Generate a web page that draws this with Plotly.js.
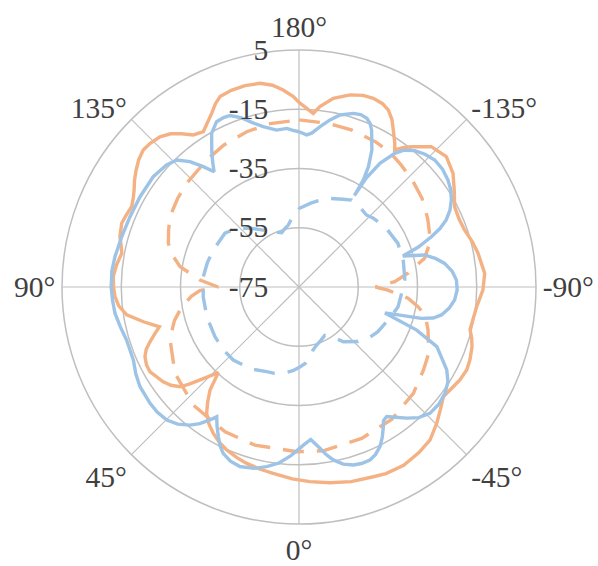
<!DOCTYPE html>
<html>
<head>
<meta charset="utf-8">
<script src="https://cdn.plot.ly/plotly-3.0.1.min.js"></script>
<style>html,body{margin:0;padding:0;background:#fff;}#chart{width:598px;height:566px;}</style>
</head>
<body>
<div id="chart"></div>
<script>
// Orange solid
var orangeSolidTheta = [-180,-175.3,-173.4,-169.7,-165.1,-161.5,-158.5,-155.5,-153.2,-151,-149,-146.3,-145.1,-143.3,-141.3,-136.7,-131.5,-126.4,-121.5,-117.3,-113,-109,-104.5,-100.7,-94.2,-89.1,-83.7,-78.1,-76,-73.5,-70.9,-67,-63.7,-60,-57.1,-52.8,-49,-45.3,-40.6,-36,-32.7,-30.4,-25,-21.4,-15,-9,-3.2,2,7.9,12,16.5,20,23.9,27,30.4,33.5,36.2,38.5,40.8,43.3,46.8,48.5,50,52.5,55.1,60.4,63,65.7,67.8,69.8,72,74.1,77.4,80.8,84,87,90,93.2,97,100.8,103,105.7,109.8,112.5,115.6,118,120.5,123,125.7,128.5,131.3,134,137.2,140,142.5,145.2,148.4,150.5,153.3,155.5,157.5,161,165,169.2,172.5,175.4,178.3,180];
var orangeSolidR = [-12.7,-16.2,-13.7,-10.25,-7.9,-6.8,-6.55,-7.0,-8.1,-10.3,-13.2,-16.7,-18.6,-16.3,-14.35,-9.9,-8.6,-10.4,-13.5,-15.9,-16.3,-15.9,-14.5,-13.5,-12.15,-12.9,-14.65,-15.4,-15.5,-14.2,-13.2,-12.3,-11.85,-12.3,-13,-13.8,-11.8,-9.6,-7.0,-6.0,-5.6,-5.2,-5.5,-6.2,-7.0,-8.1,-9.2,-10.2,-11.5,-12.1,-12.9,-13.7,-14.8,-16,-17.75,-19.8,-22.2,-25.5,-29.05,-35.3,-29.2,-25.5,-22.6,-20.5,-19.1,-17.1,-17.2,-17.95,-19.3,-21.4,-23.8,-26,-21.2,-16.1,-13.8,-12.8,-12.4,-12.2,-13.0,-14.1,-13.4,-12.2,-11.4,-11.8,-12.35,-11.6,-10.4,-8.8,-7.3,-5.9,-5.0,-5.2,-5.9,-7.5,-9.8,-12.5,-13.4,-11.8,-9.4,-7.0,-5.4,-4.8,-4.6,-5.0,-6.3,-8.3,-10.7,-12.7];

// Blue solid
var blueSolidTheta = [-180,-177.1,-175.3,-172.5,-169.5,-166.6,-162.6,-160.3,-158.1,-156.5,-155.2,-152,-150,-149,-148.8,-148.3,-146.8,-144.4,-142.5,-139.7,-136.5,-133.1,-129.5,-125.7,-122.5,-119.7,-117,-114.5,-112.5,-110.8,-108.5,-106.6,-104.3,-101.7,-99.2,-95.8,-92.5,-89,-85.2,-82,-78.9,-77,-75.6,-73.2,-69.9,-66.6,-60.7,-57.5,-54,-50,-46,-42.5,-39.4,-36.5,-34.1,-32.3,-31.1,-29,-26.9,-24.5,-22.3,-19.5,-17,-14,-11.2,-9.2,-7.4,-4.4,-1.6,1,3,6.5,10.2,14,18.2,21.5,24.5,26.5,28.3,30.5,32.4,33.8,36,38.3,41.5,44.8,48.5,52,57.9,62,66.2,72.9,77.5,81.9,86,90,95,99.4,105.8,112.6,119.6,127.1,132.7,136.1,139,141.5,143.6,145.5,147.5,150.4,153.5,156,158.1,161,164,167.4,171.9,175.6,177.5,180];
var blueSolidR = [-22.6,-23.6,-22.9,-20.4,-17.65,-15.3,-13.6,-13.2,-13.6,-14.8,-16.6,-22.6,-28.1,-32.9,-38.9,-31.8,-25.1,-19.5,-16.8,-14.65,-13.2,-12.25,-12.3,-13.1,-14.2,-15.8,-17.8,-20.4,-23.5,-27.2,-32.5,-38.4,-31.2,-27.8,-25.2,-23.0,-21.8,-21.6,-22.3,-23.8,-26,-28.5,-32.4,-44.7,-32.7,-24.3,-17.8,-15.4,-14.05,-13.4,-13.6,-15.2,-17.7,-20.3,-22.2,-21.6,-19.9,-17,-14.6,-12.8,-11.9,-11.8,-12.2,-13.4,-15.5,-17.7,-20.1,-23.4,-21.6,-19.5,-17.8,-15.2,-13.4,-11.9,-11.2,-11.8,-13.3,-15.2,-17.6,-20.5,-23.15,-21,-18,-15.6,-13.2,-11.7,-11.2,-11.2,-11.65,-12.6,-13.9,-14.1,-13.2,-12.25,-11.9,-11.6,-11.6,-12.05,-12.8,-13.2,-13.3,-13.3,-14.2,-15.5,-18.9,-23.1,-26.7,-23.5,-20.2,-15.3,-12.65,-12.4,-12.6,-14.5,-17.2,-19.55,-21.5,-21.3,-22.0,-22.6];

// Orange dashed
var orangeDashTheta = [-180,-170,-161.6,-152,-146,-140,-133,-125.8,-118,-111.7,-108.5,-102.9,-97.2,-93.2,-90,-88,-84.1,-80.6,-77.5,-71.6,-67.1,-64.3,-56.3,-47.1,-35,-22.5,-8.4,0.8,15.6,27,41.9,55.2,68.3,75,80.5,85,87.9,90,94,99.7,104,108.5,113.5,118.6,126,132.7,144,152,161.4,170,180];
var orangeDashR = [-18.6,-18.9,-19.1,-19.6,-20.1,-21.3,-22.5,-23.8,-25.8,-27.5,-28.5,-31.5,-37.9,-42.65,-49.2,-45,-38,-34.3,-31.4,-29.1,-27.6,-26,-24.5,-22.3,-20.45,-19.7,-19.1,-19.4,-19.6,-20.1,-21.5,-24,-28.1,-31.5,-34.9,-38.5,-41.5,-47.7,-41.5,-34.3,-31,-28.5,-27,-25.4,-24.3,-23.4,-22,-20.8,-19.7,-19,-18.6];

// Blue dashed
var blueDashTheta = [-180,-172,-162.7,-153.4,-148.8,-142,-136.9,-132.8,-124,-113.8,-104,-93.8,-86.5,-78.7,-71.5,-60.5,-53.5,-47.2,-39,-33.7,-28,-22,-16.9,-12.5,-10.8,-4.6,0,3.7,10,15.8,20.9,30,42,50,59.4,72,84.2,96.1,105,113.4,126,133,140,147,152.3,155,158.5,162.3,166,170.2,173.5,176.9,180];
var blueDashR = [-48.5,-46.4,-43.6,-41.9,-40.7,-41.2,-41.7,-40.8,-39.5,-38.5,-38.7,-39.2,-40.3,-40.9,-42.5,-44.4,-45.9,-47.9,-51.2,-54.8,-56.5,-55.5,-54.5,-53.2,-52.2,-49.1,-47.8,-46.8,-45.5,-44.7,-44.4,-43,-41.85,-41.8,-42.05,-42.3,-42.5,-42.5,-43,-43.5,-44.1,-46,-49,-52,-53.9,-54.5,-55.2,-55.8,-54.8,-53.8,-52,-50.3,-48.5];

// Axis ticks
var angularTickVals = [0,45,90,135,180,225,270,315];
var angularTickText = ['0°','45°','90°','135°','180°','-135°','-90°','-45°'];
var radialTickVals = [-75,-55,-35,-15,5];
var radialTickText = ['-75','-55','-35','-15','5'];

var orange = '#F4B183';
var blue = '#9DC3E6';
var dashPattern = '21px,13px';

function tr(theta, r, color, dash) {
  return {
    type: 'scatterpolar', mode: 'lines', theta: theta, r: r,
    line: {color: color, width: 3.4, dash: dash},
    hoverinfo: 'skip', showlegend: false
  };
}

var data = [
  tr(orangeDashTheta, orangeDashR, orange, dashPattern),
  tr(blueDashTheta, blueDashR, blue, dashPattern),
  tr(orangeSolidTheta, orangeSolidR, orange, 'solid'),
  tr(blueSolidTheta, blueSolidR, blue, 'solid')
];

var tickFont = {family: 'Liberation Serif', size: 29.5, color: '#404040'};
var gridGray = '#BFBFBF';

var layout = {
  width: 598, height: 566,
  margin: {l: 62, r: 62, t: 50, b: 42, pad: 0},
  paper_bgcolor: '#ffffff',
  showlegend: false,
  hovermode: false,
  polar: {
    bgcolor: '#ffffff',
    domain: {x: [0, 1], y: [0, 1]},
    angularaxis: {
      rotation: 270, direction: 'clockwise',
      tickmode: 'array', tickvals: angularTickVals, ticktext: angularTickText,
      showline: true, linecolor: gridGray, linewidth: 1.5,
      showgrid: true, gridcolor: gridGray, gridwidth: 1.2,
      ticks: '',
      tickfont: tickFont
    },
    radialaxis: {
      range: [-75, 5], angle: 90, side: 'counterclockwise',
      tickmode: 'array', tickvals: radialTickVals, ticktext: radialTickText,
      showline: false, showgrid: true, gridcolor: gridGray, gridwidth: 1.5,
      ticks: 'outside', ticklen: 20, tickcolor: 'rgba(0,0,0,0)',
      tickangle: 90,
      tickfont: tickFont
    }
  }
};

Plotly.newPlot('chart', data, layout, {displayModeBar: false, staticPlot: true});
</script>
</body>
</html>
